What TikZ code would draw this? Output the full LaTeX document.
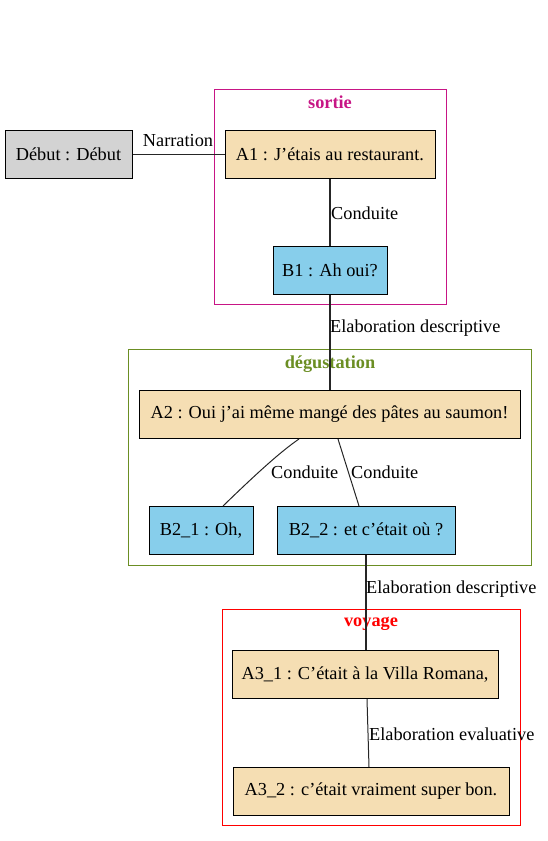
\documentclass[tikz,border=0pt]{standalone}
\usepackage{fontspec}
\setmainfont{Liberation Serif}
\definecolor{cSortie}{HTML}{C71585}
\definecolor{cDeg}{HTML}{6B8E23}
\definecolor{cWheat}{HTML}{F5DEB3}
\definecolor{cSky}{HTML}{87CEEB}
\definecolor{cGray}{HTML}{D3D3D3}
\begin{document}
\begin{tikzpicture}[x=1pt,y=-1pt,
  box/.style={draw=black,line width=1pt,minimum height=48pt,inner sep=0pt,font=\fontsize{18.3}{21}\selectfont},
  abox/.style={box,fill=cWheat},
  bbox/.style={box,fill=cSky},
  gbox/.style={box,fill=cGray},
  cluster/.style={draw=#1,line width=1pt},
  ctitle/.style={text=#1,font=\bfseries\fontsize{18.3}{21}\selectfont,inner sep=0pt},
  elabel/.style={font=\fontsize{18.3}{21}\selectfont,inner sep=0pt},
  edge/.style={draw=black!85,line width=1.3pt}]
\useasboundingbox (0,0) rectangle (547,841);
% clusters
\draw[cluster=cSortie] (214,89) rectangle (446,304);
\node[ctitle=cSortie] (tsortie) at (330,102) {sortie};
\draw[cluster=cDeg] (128,349) rectangle (531,565);
\node[ctitle=cDeg] (tdeg) at (330,364) {dégustation};
\draw[cluster=red] (222,609) rectangle (520,825);
\node[ctitle=red] (tvoy) at (371,624) {voyage};
% nodes
\node[gbox,minimum width=127pt] (debut) at (68.5,154.5) {Début : Début};
\node[abox,minimum width=210pt] (A1) at (330,154.5) {A1 : J’étais au restaurant.};
\node[bbox,minimum width=114pt] (B1) at (330,270.5) {B1 : Ah oui?};
\node[abox,minimum width=381pt] (A2) at (329.5,414.5) {A2 : Oui j’ai même mangé des pâtes au saumon!};
\node[bbox,minimum width=104pt] (B21) at (201,530.5) {B2\_1 : Oh,};
\node[bbox,minimum width=178pt] (B22) at (366,530.5) {B2\_2 : et c’était où ?};
\node[abox,minimum width=266pt] (A31) at (365,674.5) {A3\_1 : C’était à la Villa Romana,};
\node[abox,minimum width=276pt] (A32) at (371,791.5) {A3\_2 : c’était vraiment super bon.};
% edges
\draw[edge] (debut.east) -- (A1.west);
\node[elabel] (lnarr) at (178,141) {Narration};
\draw[edge] (A1.south) -- (B1.north);
\node[elabel,anchor=west] (lc1) at (331,213) {Conduite};
\draw[edge] (B1.south) -- (A2.north -| B1.south);
\node[elabel,anchor=west] (led1) at (330,328) {Elaboration descriptive};
\draw[edge,line width=1pt] ([xshift=-30.5pt]A2.south) .. controls (280,452) and (255,475) .. ([xshift=22pt]B21.north);
\node[elabel,anchor=west] (lc2) at (271,472) {Conduite};
\draw[edge,line width=1pt] ([xshift=8.5pt]A2.south) -- ([xshift=-7pt]B22.north);
\node[elabel,anchor=west] (lc3) at (351,472) {Conduite};
\draw[edge] (B22.south) -- ([xshift=1pt]A31.north);
\node[elabel,anchor=west] (led2) at (366,589) {Elaboration descriptive};
\draw[edge,line width=1pt] ([xshift=2pt]A31.south) -- ([xshift=-2pt]A32.north);
\node[elabel,anchor=west] (lev) at (369,734) {Elaboration evaluative};
\end{tikzpicture}
\end{document}
